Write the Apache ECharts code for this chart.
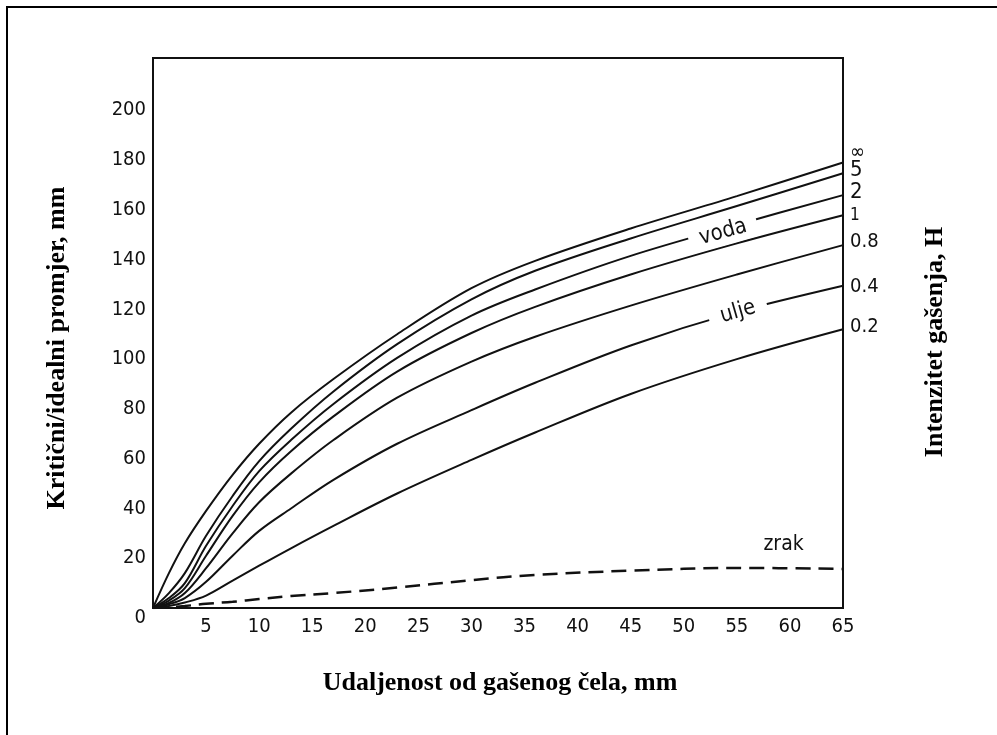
<!DOCTYPE html>
<html>
<head>
<meta charset="utf-8">
<script src="https://cdn.jsdelivr.net/npm/echarts@6/dist/echarts.min.js"></script>
<style>
html,body{margin:0;padding:0;background:#fff;}
#c{width:997px;height:735px;}
</style>
</head>
<body>
<div id="c"></div>
<script>
// distance from quenched end, mm
const xs = [0, 1.5, 3, 5, 7.5, 10, 13, 17, 23, 30, 36, 45, 55, 65];
// critical/ideal diameter, mm, for each quench intensity H
const hInf = [0, 14, 26, 39, 53.5, 66, 78.5, 92, 110, 128.5, 139.5, 152.5, 165.5, 179];
const h5   = [0, 6, 14, 29, 45, 59, 72, 87, 106, 124, 135.5, 148.5, 161.5, 174.7];
const h2   = [0, 4, 10, 25, 41, 55, 67.5, 82, 100.5, 117.5, 128, 141.5, 154, 165.9];
const h1   = [0, 3, 8, 21, 37, 50.5, 63, 77, 95, 110.5, 121, 134, 146.5, 157.8];
const h08  = [0, 2, 6, 16, 30, 42.5, 54, 67.5, 84.5, 99, 109, 121.5, 134, 145.8];
const h04  = [0, 1.5, 4, 10.5, 21, 31, 40, 51.5, 66, 79.5, 90.5, 105.5, 119, 129.5];
const h02  = [0, 0.8, 2.2, 5, 11, 17, 24, 33, 46, 59.5, 70.5, 86, 100, 112];
const zrak = [0, 0.3, 0.8, 1.7, 2.5, 3.6, 4.8, 6, 8.2, 11.2, 13.3, 15, 16.1, 15.7];

const hLabels = ['∞', '5', '2', '1', '0.8', '0.4', '0.2'];
const hSeries = [hInf, h5, h2, h1, h08, h04, h02];
const xTicks = [5, 10, 15, 20, 25, 30, 35, 40, 45, 50, 55, 60, 65];
const yTicks = [0, 20, 40, 60, 80, 100, 120, 140, 160, 180, 200];

const textFont = '"DejaVu Sans Condensed", "Liberation Sans Narrow", "DejaVu Sans", sans-serif';
const titleFont = '"Liberation Serif", "DejaVu Serif", serif';
const ink = '#111';

const labelOffsets = [[0, -10], [0, -3], [0, -3], [0, 0], [0, -3], [0, 1], [0, -2]];
const labelSizes = [20, 22, 22, 17, 20, 20, 20];

function zip(a) { return xs.map((x, i) => [x, a[i]]); }

const series = hSeries.map((arr, i) => ({
  type: 'line',
  name: 'H=' + hLabels[i],
  data: zip(arr),
  smooth: 0.35,
  symbol: 'none',
  lineStyle: { color: ink, width: 2 },
  z: 3,
  endLabel: {
    show: true,
    formatter: hLabels[i],
    distance: 7,
    offset: labelOffsets[i],
    fontFamily: textFont,
    fontSize: labelSizes[i],
    color: ink
  }
}));
series.push({
  type: 'line',
  name: 'zrak',
  data: zip(zrak),
  smooth: 0.35,
  symbol: 'none',
  lineStyle: { color: ink, width: 2.5, type: [15, 8] },
  z: 3
});

const chart = echarts.init(document.getElementById('c'), null, { renderer: 'canvas' });

const option = {
  backgroundColor: '#fff',
  animation: false,
  grid: {
    left: 153, top: 58, right: 154, bottom: 127,
    show: true, borderColor: ink, borderWidth: 2, backgroundColor: 'transparent'
  },
  xAxis: {
    type: 'value', min: 0, max: 65, interval: 5,
    axisLine: { show: false }, axisTick: { show: false }, splitLine: { show: false },
    axisLabel: {
      margin: 9, fontFamily: textFont, fontSize: 20, color: ink,
      formatter: v => (xTicks.indexOf(v) >= 0 ? String(v) : '')
    }
  },
  yAxis: {
    type: 'value', min: 0, max: 221, interval: 20,
    axisLine: { show: false }, axisTick: { show: false }, splitLine: { show: false },
    axisLabel: {
      margin: 7, fontFamily: textFont, fontSize: 20, color: ink,
      showMaxLabel: false,
      formatter: v => (v === 0 ? '{z|0}' : (yTicks.indexOf(v) >= 0 ? String(v) : '')),
      rich: { z: { fontFamily: textFont, fontSize: 20, color: ink, padding: [20, 0, 0, 0] } }
    }
  },
  series: series
};
chart.setOption(option);

function px(x, y) { return chart.convertToPixel({ gridIndex: 0 }, [x, y]); }
const pVoda = px(53.7, 151);
const pUlje = px(55.1, 119);
const pZrak = px(59.4, 25.3);

chart.setOption({
  graphic: [
    { type: 'rect', z: 0, shape: { x: 7, y: 7, width: 1000, height: 740 },
      style: { fill: 'none', stroke: '#000', lineWidth: 2 } },
    { type: 'text', x: 57, y: 348, rotation: Math.PI / 2, z: 10,
      style: { text: 'Kritični/idealni promjer, mm', font: 'bold 26px ' + titleFont,
        fill: '#000', textAlign: 'center', textVerticalAlign: 'middle' } },
    { type: 'text', x: 935, y: 342, rotation: Math.PI / 2, z: 10,
      style: { text: 'Intenzitet gašenja, H', font: 'bold 26px ' + titleFont,
        fill: '#000', textAlign: 'center', textVerticalAlign: 'middle' } },
    { type: 'text', x: 500, y: 683, z: 10,
      style: { text: 'Udaljenost od gašenog čela, mm', font: 'bold 26px ' + titleFont,
        fill: '#000', textAlign: 'center', textVerticalAlign: 'middle' } },
    { type: 'text', x: pVoda[0], y: pVoda[1], rotation: 15.5 * Math.PI / 180, z: 100,
      style: { text: 'voda', font: '22px ' + textFont, fill: ink,
        textAlign: 'center', textVerticalAlign: 'middle',
        backgroundColor: '#fff', padding: [2, 11, 2, 11] } },
    { type: 'text', x: pUlje[0], y: pUlje[1], rotation: 16 * Math.PI / 180, z: 100,
      style: { text: 'ulje', font: '22px ' + textFont, fill: ink,
        textAlign: 'center', textVerticalAlign: 'middle',
        backgroundColor: '#fff', padding: [2, 12, 2, 12] } },
    { type: 'text', x: pZrak[0], y: pZrak[1], z: 100,
      style: { text: 'zrak', font: '21px ' + textFont, fill: ink,
        textAlign: 'center', textVerticalAlign: 'middle' } }
  ]
});
</script>
</body>
</html>
